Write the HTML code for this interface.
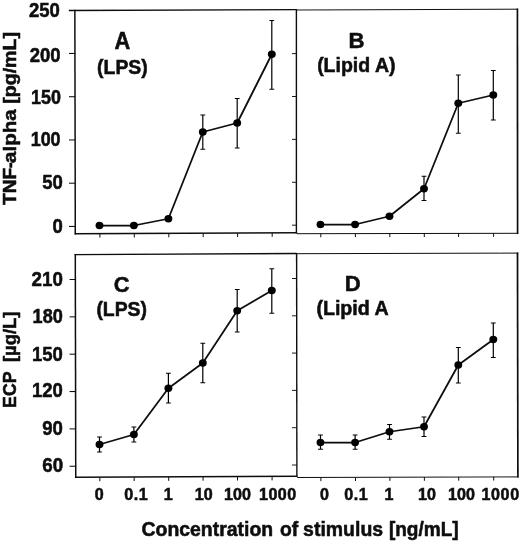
<!DOCTYPE html>
<html><head><meta charset="utf-8"><title>Figure</title>
<style>html,body{margin:0;padding:0;background:#fff;}body{width:520px;height:541px;overflow:hidden;}svg{display:block;}text{font-family:"Liberation Sans", sans-serif;font-weight:bold;fill:#0a0a0a;stroke:#0a0a0a;stroke-width:0.5px;}</style>
</head><body>
<svg width="520" height="541" viewBox="0 0 520 541">
<rect x="0" y="0" width="520" height="541" fill="#ffffff"/>
<defs><filter id="soft" x="0" y="0" width="520" height="541" filterUnits="userSpaceOnUse"><feGaussianBlur stdDeviation="0.38"/></filter></defs>
<g filter="url(#soft)">
<g stroke="#111" fill="none" stroke-linecap="butt">
<line x1="68.80" y1="10.45" x2="296.40" y2="9.60" stroke-width="1.40"/>
<line x1="74.85" y1="9.80" x2="75.30" y2="234.40" stroke-width="1.50"/>
<line x1="296.40" y1="9.00" x2="296.40" y2="233.50" stroke-width="1.40"/>
<line x1="74.70" y1="233.70" x2="297.10" y2="232.80" stroke-width="1.40"/>
<line x1="296.40" y1="10.00" x2="518.10" y2="9.20" stroke-width="1.00"/>
<line x1="517.40" y1="8.60" x2="517.60" y2="233.90" stroke-width="1.70"/>
<line x1="297.00" y1="233.70" x2="518.30" y2="233.30" stroke-width="1.00"/>
<line x1="74.50" y1="254.60" x2="296.60" y2="253.50" stroke-width="1.40"/>
<line x1="75.30" y1="254.00" x2="75.75" y2="478.00" stroke-width="1.50"/>
<line x1="296.60" y1="252.90" x2="296.90" y2="477.10" stroke-width="1.40"/>
<line x1="75.10" y1="477.30" x2="297.50" y2="476.30" stroke-width="1.40"/>
<line x1="296.60" y1="253.70" x2="518.30" y2="253.10" stroke-width="1.00"/>
<line x1="517.50" y1="252.50" x2="517.90" y2="477.50" stroke-width="1.70"/>
<line x1="297.20" y1="477.50" x2="518.70" y2="476.90" stroke-width="1.00"/>
<line x1="69.00" y1="53.45" x2="75.30" y2="53.45" stroke-width="1.05"/>
<line x1="69.00" y1="96.70" x2="75.30" y2="96.70" stroke-width="1.05"/>
<line x1="69.00" y1="139.95" x2="75.30" y2="139.95" stroke-width="1.05"/>
<line x1="69.00" y1="183.20" x2="75.30" y2="183.20" stroke-width="1.05"/>
<line x1="69.00" y1="226.45" x2="75.30" y2="226.45" stroke-width="1.05"/>
<line x1="69.60" y1="279.50" x2="75.60" y2="279.50" stroke-width="1.05"/>
<line x1="69.60" y1="316.85" x2="75.60" y2="316.85" stroke-width="1.05"/>
<line x1="69.60" y1="354.20" x2="75.60" y2="354.20" stroke-width="1.05"/>
<line x1="69.60" y1="391.55" x2="75.60" y2="391.55" stroke-width="1.05"/>
<line x1="69.60" y1="428.90" x2="75.60" y2="428.90" stroke-width="1.05"/>
<line x1="69.60" y1="466.25" x2="75.60" y2="466.25" stroke-width="1.05"/>
<line x1="292.00" y1="53.60" x2="296.40" y2="53.60" stroke-width="0.95"/>
<line x1="292.00" y1="96.50" x2="296.40" y2="96.50" stroke-width="0.95"/>
<line x1="292.00" y1="139.40" x2="296.40" y2="139.40" stroke-width="0.95"/>
<line x1="292.00" y1="182.30" x2="296.40" y2="182.30" stroke-width="0.95"/>
<line x1="292.00" y1="225.20" x2="296.40" y2="225.20" stroke-width="0.95"/>
<line x1="292.00" y1="278.50" x2="296.80" y2="278.50" stroke-width="0.95"/>
<line x1="292.00" y1="315.80" x2="296.80" y2="315.80" stroke-width="0.95"/>
<line x1="292.00" y1="353.10" x2="296.80" y2="353.10" stroke-width="0.95"/>
<line x1="292.00" y1="390.40" x2="296.80" y2="390.40" stroke-width="0.95"/>
<line x1="292.00" y1="427.70" x2="296.80" y2="427.70" stroke-width="0.95"/>
<line x1="292.00" y1="465.00" x2="296.80" y2="465.00" stroke-width="0.95"/>
<line x1="99.90" y1="233.70" x2="99.90" y2="237.60" stroke-width="1.00"/>
<line x1="99.80" y1="477.30" x2="99.80" y2="481.20" stroke-width="1.00"/>
<line x1="134.30" y1="233.55" x2="134.30" y2="237.45" stroke-width="1.00"/>
<line x1="134.20" y1="477.13" x2="134.20" y2="481.03" stroke-width="1.00"/>
<line x1="168.80" y1="233.39" x2="168.80" y2="237.29" stroke-width="1.00"/>
<line x1="168.70" y1="476.96" x2="168.70" y2="480.86" stroke-width="1.00"/>
<line x1="203.20" y1="233.24" x2="203.20" y2="237.14" stroke-width="1.00"/>
<line x1="203.10" y1="476.79" x2="203.10" y2="480.69" stroke-width="1.00"/>
<line x1="237.60" y1="233.09" x2="237.60" y2="236.99" stroke-width="1.00"/>
<line x1="237.50" y1="476.62" x2="237.50" y2="480.52" stroke-width="1.00"/>
<line x1="272.20" y1="232.94" x2="272.20" y2="236.84" stroke-width="1.00"/>
<line x1="272.10" y1="476.45" x2="272.10" y2="480.35" stroke-width="1.00"/>
<line x1="320.80" y1="233.65" x2="320.80" y2="237.25" stroke-width="1.00"/>
<line x1="320.90" y1="477.45" x2="320.90" y2="481.15" stroke-width="1.00"/>
<line x1="355.40" y1="233.57" x2="355.40" y2="237.17" stroke-width="1.00"/>
<line x1="355.50" y1="477.33" x2="355.50" y2="481.03" stroke-width="1.00"/>
<line x1="389.80" y1="233.49" x2="389.80" y2="237.09" stroke-width="1.00"/>
<line x1="389.90" y1="477.21" x2="389.90" y2="480.91" stroke-width="1.00"/>
<line x1="424.30" y1="233.41" x2="424.30" y2="237.01" stroke-width="1.00"/>
<line x1="424.40" y1="477.09" x2="424.40" y2="480.79" stroke-width="1.00"/>
<line x1="458.60" y1="233.33" x2="458.60" y2="236.93" stroke-width="1.00"/>
<line x1="458.70" y1="476.97" x2="458.70" y2="480.67" stroke-width="1.00"/>
<line x1="493.60" y1="233.25" x2="493.60" y2="236.85" stroke-width="1.00"/>
<line x1="493.70" y1="476.85" x2="493.70" y2="480.55" stroke-width="1.00"/>
</g>
<g stroke="#050505" stroke-width="1.2" fill="none">
<path d="M202.80 115.00V149.25M200.40 115.00H205.20M200.40 149.25H205.20"/>
<path d="M237.20 98.50V148.00M234.80 98.50H239.60M234.80 148.00H239.60"/>
<path d="M271.80 20.50V89.25M269.40 20.50H274.20M269.40 89.25H274.20"/>
</g>
<path d="M99.50 225.50 L133.90 225.50 L168.40 218.75 L202.80 132.00 L237.20 123.00 L271.80 54.25" stroke="#0a0a0a" stroke-width="1.75" fill="none" stroke-linejoin="round"/>
<g fill="#050505">
<ellipse cx="99.50" cy="225.50" rx="3.95" ry="3.65"/>
<ellipse cx="133.90" cy="225.50" rx="3.95" ry="3.65"/>
<ellipse cx="168.40" cy="218.75" rx="3.95" ry="3.65"/>
<ellipse cx="202.80" cy="132.00" rx="3.95" ry="3.65"/>
<ellipse cx="237.20" cy="123.00" rx="3.95" ry="3.65"/>
<ellipse cx="271.80" cy="54.25" rx="3.95" ry="3.65"/>
</g>
<g stroke="#050505" stroke-width="1.2" fill="none">
<path d="M424.00 176.25V200.50M421.60 176.25H426.40M421.60 200.50H426.40"/>
<path d="M458.30 75.00V133.25M455.90 75.00H460.70M455.90 133.25H460.70"/>
<path d="M493.30 70.50V120.00M490.90 70.50H495.70M490.90 120.00H495.70"/>
</g>
<path d="M320.50 224.50 L355.10 224.50 L389.50 216.25 L424.00 188.75 L458.30 103.25 L493.30 95.00" stroke="#0a0a0a" stroke-width="1.75" fill="none" stroke-linejoin="round"/>
<g fill="#050505">
<ellipse cx="320.50" cy="224.50" rx="3.95" ry="3.65"/>
<ellipse cx="355.10" cy="224.50" rx="3.95" ry="3.65"/>
<ellipse cx="389.50" cy="216.25" rx="3.95" ry="3.65"/>
<ellipse cx="424.00" cy="188.75" rx="3.95" ry="3.65"/>
<ellipse cx="458.30" cy="103.25" rx="3.95" ry="3.65"/>
<ellipse cx="493.30" cy="95.00" rx="3.95" ry="3.65"/>
</g>
<g stroke="#050505" stroke-width="1.2" fill="none">
<path d="M99.50 437.00V452.00M97.10 437.00H101.90M97.10 452.00H101.90"/>
<path d="M133.90 427.00V442.00M131.50 427.00H136.30M131.50 442.00H136.30"/>
<path d="M168.40 373.25V403.00M166.00 373.25H170.80M166.00 403.00H170.80"/>
<path d="M202.80 343.25V382.75M200.40 343.25H205.20M200.40 382.75H205.20"/>
<path d="M237.20 289.50V332.00M234.80 289.50H239.60M234.80 332.00H239.60"/>
<path d="M271.80 268.75V313.25M269.40 268.75H274.20M269.40 313.25H274.20"/>
</g>
<path d="M99.50 444.50 L133.90 434.50 L168.40 388.25 L202.80 363.00 L237.20 310.75 L271.80 290.50" stroke="#0a0a0a" stroke-width="1.75" fill="none" stroke-linejoin="round"/>
<g fill="#050505">
<ellipse cx="99.50" cy="444.50" rx="3.95" ry="3.65"/>
<ellipse cx="133.90" cy="434.50" rx="3.95" ry="3.65"/>
<ellipse cx="168.40" cy="388.25" rx="3.95" ry="3.65"/>
<ellipse cx="202.80" cy="363.00" rx="3.95" ry="3.65"/>
<ellipse cx="237.20" cy="310.75" rx="3.95" ry="3.65"/>
<ellipse cx="271.80" cy="290.50" rx="3.95" ry="3.65"/>
</g>
<g stroke="#050505" stroke-width="1.2" fill="none">
<path d="M320.50 435.00V449.25M318.10 435.00H322.90M318.10 449.25H322.90"/>
<path d="M355.10 435.00V449.25M352.70 435.00H357.50M352.70 449.25H357.50"/>
<path d="M389.50 424.50V439.25M387.10 424.50H391.90M387.10 439.25H391.90"/>
<path d="M424.00 417.00V436.50M421.60 417.00H426.40M421.60 436.50H426.40"/>
<path d="M458.30 347.50V383.00M455.90 347.50H460.70M455.90 383.00H460.70"/>
<path d="M493.30 323.00V357.50M490.90 323.00H495.70M490.90 357.50H495.70"/>
</g>
<path d="M320.50 442.50 L355.10 442.50 L389.50 431.75 L424.00 426.75 L458.30 365.00 L493.30 339.50" stroke="#0a0a0a" stroke-width="1.75" fill="none" stroke-linejoin="round"/>
<g fill="#050505">
<ellipse cx="320.50" cy="442.50" rx="3.95" ry="3.65"/>
<ellipse cx="355.10" cy="442.50" rx="3.95" ry="3.65"/>
<ellipse cx="389.50" cy="431.75" rx="3.95" ry="3.65"/>
<ellipse cx="424.00" cy="426.75" rx="3.95" ry="3.65"/>
<ellipse cx="458.30" cy="365.00" rx="3.95" ry="3.65"/>
<ellipse cx="493.30" cy="339.50" rx="3.95" ry="3.65"/>
</g>
<text transform="translate(59.90 17.00) scale(0.955 1)" font-size="19.40" text-anchor="end">250</text>
<text transform="translate(60.60 61.90) scale(0.955 1)" font-size="19.40" text-anchor="end">200</text>
<text transform="translate(60.90 104.40) scale(0.925 1)" font-size="19.40" text-anchor="end">150</text>
<text transform="translate(60.60 146.10) scale(0.925 1)" font-size="19.40" text-anchor="end">100</text>
<text transform="translate(62.80 188.70) scale(0.955 1)" font-size="19.40" text-anchor="end">50</text>
<text transform="translate(62.80 233.20) scale(0.955 1)" font-size="19.40" text-anchor="end">0</text>
<text transform="translate(62.80 286.00) scale(0.960 1)" font-size="19.50" text-anchor="end">210</text>
<text transform="translate(62.80 323.45) scale(0.930 1)" font-size="19.50" text-anchor="end">180</text>
<text transform="translate(62.90 361.00) scale(0.950 1)" font-size="19.50" text-anchor="end">150</text>
<text transform="translate(62.90 397.30) scale(0.950 1)" font-size="19.50" text-anchor="end">120</text>
<text transform="translate(62.90 435.40) scale(0.955 1)" font-size="19.50" text-anchor="end">90</text>
<text transform="translate(63.10 472.05) scale(0.960 1)" font-size="19.50" text-anchor="end">60</text>
<text transform="translate(99.30 500.10) scale(0.970 1)" font-size="16.60" text-anchor="middle">0</text>
<text transform="translate(136.00 500.1) scale(0.97 1)" font-size="16.6" text-anchor="middle" textLength="24.33" lengthAdjust="spacing">0.1</text>
<text transform="translate(168.30 500.10) scale(0.970 1)" font-size="16.60" text-anchor="middle">1</text>
<text transform="translate(203.80 500.10) scale(0.970 1)" font-size="16.60" text-anchor="middle">10</text>
<text transform="translate(237.50 500.10) scale(0.970 1)" font-size="16.60" text-anchor="middle">100</text>
<text transform="translate(277.60 500.1) scale(0.97 1)" font-size="16.6" text-anchor="middle" textLength="38.35" lengthAdjust="spacing">1000</text>
<text transform="translate(324.50 500.10) scale(0.970 1)" font-size="16.60" text-anchor="middle">0</text>
<text transform="translate(356.00 500.1) scale(0.97 1)" font-size="16.6" text-anchor="middle" textLength="24.33" lengthAdjust="spacing">0.1</text>
<text transform="translate(389.00 500.10) scale(0.970 1)" font-size="16.60" text-anchor="middle">1</text>
<text transform="translate(426.90 500.10) scale(0.970 1)" font-size="16.60" text-anchor="middle">10</text>
<text transform="translate(461.50 500.10) scale(0.970 1)" font-size="16.60" text-anchor="middle">100</text>
<text transform="translate(500.30 500.1) scale(0.97 1)" font-size="16.6" text-anchor="middle" textLength="38.76" lengthAdjust="spacing">1000</text>
<text x="141.50" y="535.80" font-size="19.30" text-anchor="start" textLength="131.60" lengthAdjust="spacingAndGlyphs">Concentration</text>
<text x="279.90" y="535.80" font-size="19.30" text-anchor="start">of</text>
<text x="303.10" y="535.80" font-size="19.30" text-anchor="start" textLength="80.00" lengthAdjust="spacingAndGlyphs">stimulus</text>
<text x="388.90" y="535.80" font-size="19.30" text-anchor="start" textLength="69.80" lengthAdjust="spacingAndGlyphs">[ng/mL]</text>
<text transform="translate(15.7 186.4) rotate(-90)" font-size="18.2" text-anchor="middle" textLength="37.3" lengthAdjust="spacingAndGlyphs">TNF</text>
<text transform="translate(15.7 165.3) rotate(-90)" font-size="18.2" text-anchor="middle">-</text>
<text transform="translate(15.7 136.2) rotate(-90)" font-size="18.2" text-anchor="middle" textLength="53.4" lengthAdjust="spacingAndGlyphs">alpha</text>
<text transform="translate(15.7 67.9) rotate(-90)" font-size="18.2" text-anchor="middle" textLength="71.6" lengthAdjust="spacingAndGlyphs">[pg/mL]</text>
<text transform="translate(15.9 389.7) rotate(-90)" font-size="19" text-anchor="middle" textLength="36.4" lengthAdjust="spacingAndGlyphs">ECP</text>
<text transform="translate(15.9 336.8) rotate(-90)" font-size="19" text-anchor="middle" textLength="50.6" lengthAdjust="spacingAndGlyphs">[&#181;g/L]</text>
<text transform="translate(122.40 49.30) scale(0.940 1)" font-size="23.20" text-anchor="middle">A</text>
<text x="122.40" y="74.30" font-size="19.40" text-anchor="middle">(LPS)</text>
<text transform="translate(356.40 47.70) scale(0.980 1)" font-size="22.60" text-anchor="middle">B</text>
<text x="356.30" y="72.20" font-size="19.50" text-anchor="middle">(Lipid A)</text>
<text transform="translate(121.60 291.50) scale(0.980 1)" font-size="22.30" text-anchor="middle">C</text>
<text x="121.70" y="316.10" font-size="19.40" text-anchor="middle">(LPS)</text>
<text transform="translate(352.60 291.20) scale(0.980 1)" font-size="22.50" text-anchor="middle">D</text>
<text x="316.40" y="314.90" font-size="19.60" text-anchor="start">(Lipid A</text>
</g>
</svg></body></html>
